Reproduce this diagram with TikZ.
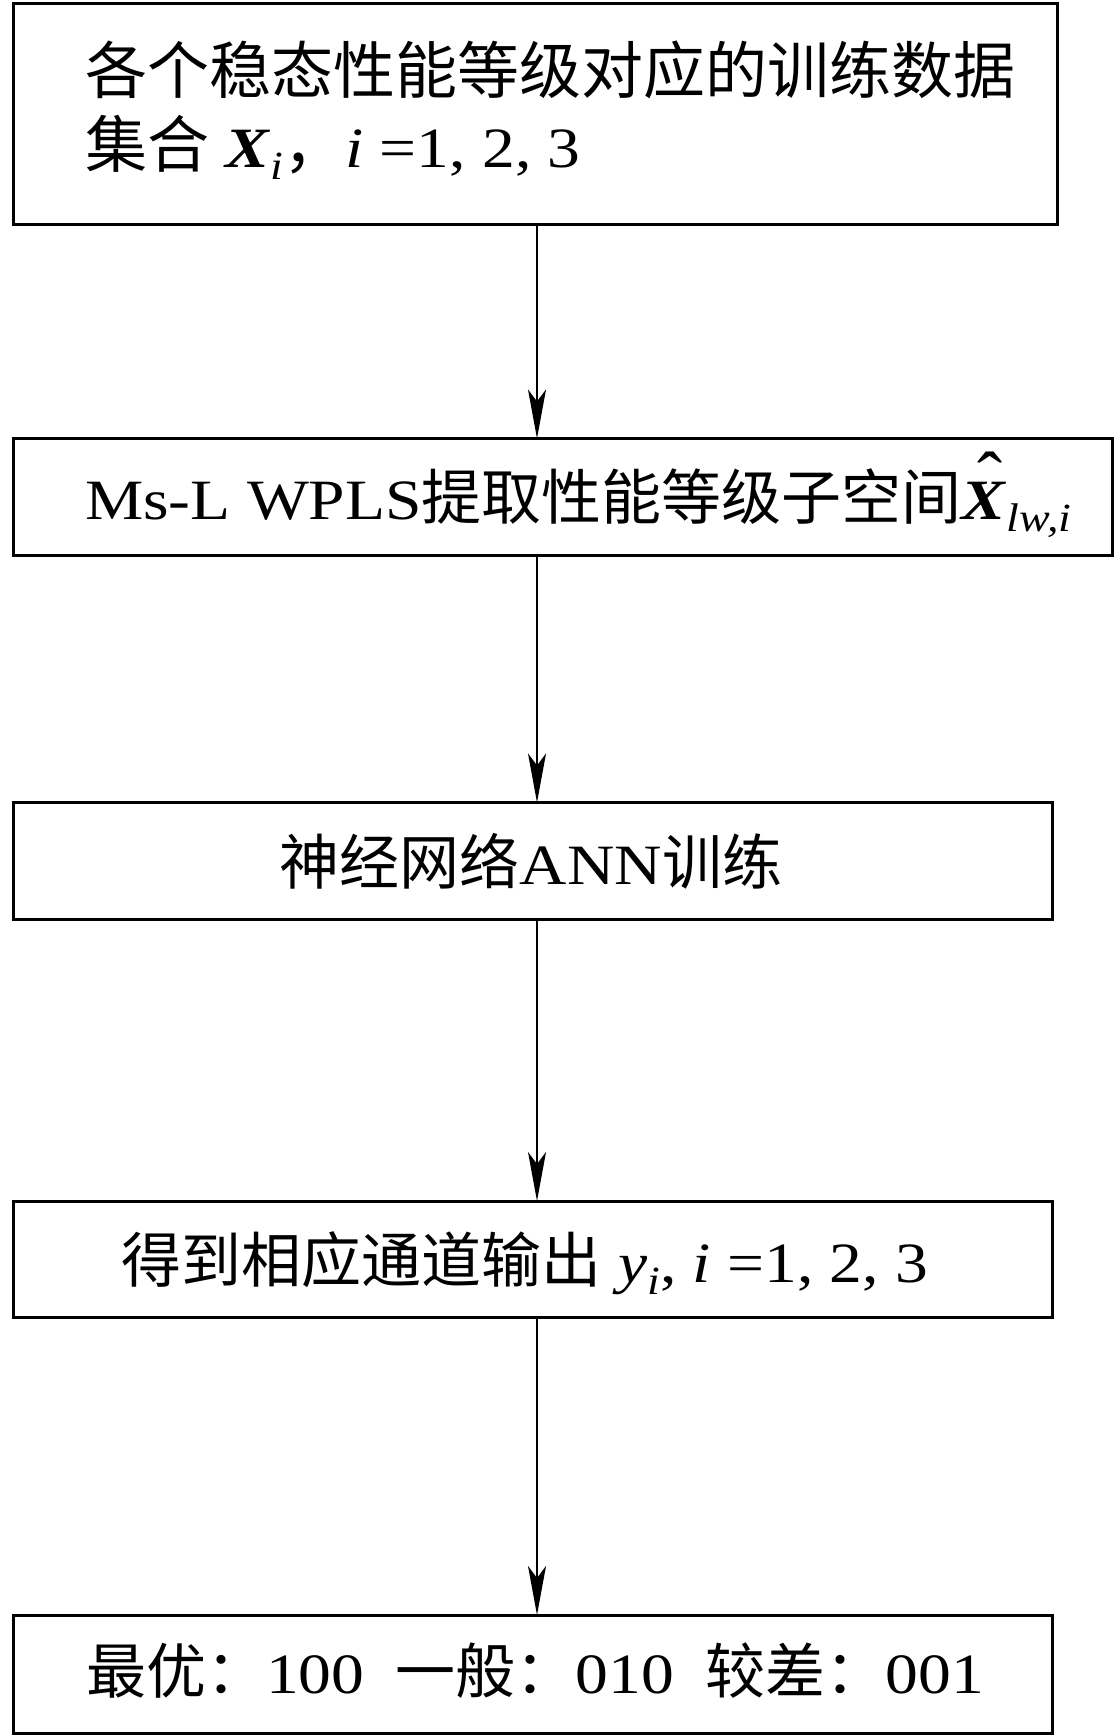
\documentclass[tikz,border=0pt]{standalone}
\usepackage{fontspec}
\usepackage{graphicx}
\setmainfont{Liberation Serif}[FakeStretch=1.15]
\newfontfamily\cjk{Noto Sans CJK SC}
\usetikzlibrary{arrows.meta}
\newcommand{\zh}[2][60]{{\cjk\fontsize{#1}{#1}\selectfont #2}}
\newcommand{\subx}[1]{\raisebox{-12pt}{\fontsize{40}{40}\selectfont\textit{#1}}}
\newcommand{\hatX}{\ooalign{\textbf{\textit{X}}\cr\hidewidth\hspace{0.2em}\raisebox{16pt}{\scalebox{1.15}[1.3]{\char"02C6}}\hidewidth\cr}}
\tikzset{
  box/.style={draw=black, line width=3pt, inner sep=0pt, outer sep=0pt},
  txt/.style={inner sep=0pt, outer sep=0pt, font=\fontsize{57}{62}\selectfont},
  arr/.style={draw=black, line width=2pt, -{Stealth[length=49pt, width=18pt, inset=12pt]}}
}
\begin{document}
\begin{tikzpicture}[x=1pt, y=-1pt]
\fill[white] (0,0) rectangle (1114,1735);
\useasboundingbox (0,0) rectangle (1114,1735);
% boxes
\node[box, minimum width=1044pt, minimum height=221.5pt] (b1) at (535.5,113.75) {};
\node[box, minimum width=1098.5pt, minimum height=116.5pt] (b2) at (562.75,496.75) {};
\node[box, minimum width=1038.5pt, minimum height=117pt] (b3) at (532.75,861) {};
\node[box, minimum width=1038.5pt, minimum height=116.5pt] (b4) at (532.75,1259.25) {};
\node[box, minimum width=1038.5pt, minimum height=118pt] (b5) at (532.75,1674) {};
% texts
\node[txt, anchor=base west] (t1a) at (85,93) {\zh[62]{各个稳态性能等级对应的训练数据}};
\node[txt, anchor=base west] (t1b) at (85,167) {\zh[62]{集合}\ \textbf{\textit{X}}\subx{i}\zh[62]{，}\textit{i} =1, 2, 3};
\node[txt, anchor=base west] (t2) at (85,519) {Ms-L WPLS\zh{提取性能等级子空间}\hatX\subx{lw,i}};
\node[txt, anchor=base] (t3) at (531,884) {\zh{神经网络}ANN\zh{训练}};
\node[txt, anchor=base] (t4) at (525,1282) {\zh{得到相应通道输出} \textit{y}\subx{i}, \textit{i} =1, 2, 3};
\node[txt, anchor=base] (t5) at (535,1693) {\zh{最优：}100\hspace{0.55em}\zh{一般：}010\hspace{0.55em}\zh{较差：}001};
% arrows
\coordinate (ax) at (537,0);
\draw[arr] (b1.south -| ax) -- (b2.north -| ax);
\draw[arr] (b2.south -| ax) -- (b3.north -| ax);
\draw[arr] (b3.south -| ax) -- (b4.north -| ax);
\draw[arr] (b4.south -| ax) -- (b5.north -| ax);
\end{tikzpicture}
\end{document}
